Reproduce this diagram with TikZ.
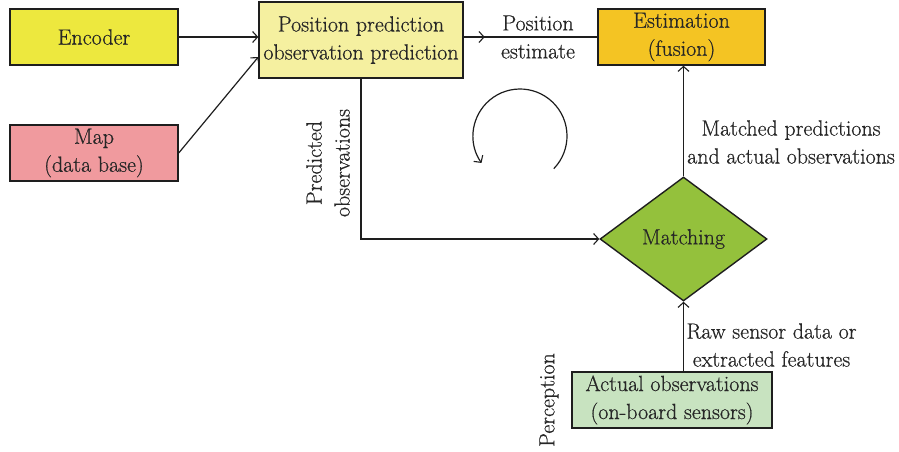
\documentclass[tikz,border=0pt]{standalone}
\usepackage{fontspec}
\setmainfont{Latin Modern Roman}[FakeBold=0.6]
\usetikzlibrary{arrows.meta,shapes.geometric,calc}
\definecolor{enccol}{RGB}{237,232,62}
\definecolor{mapcol}{RGB}{240,154,158}
\definecolor{ppcol}{RGB}{245,240,160}
\definecolor{estcol}{RGB}{244,196,35}
\definecolor{matchcol}{RGB}{148,193,60}
\definecolor{actcol}{RGB}{200,227,192}
\definecolor{txt}{RGB}{38,38,38}
\definecolor{edge}{RGB}{30,30,30}
\begin{document}
\begin{tikzpicture}[x=1pt,y=1pt,
  font=\fontsize{22}{28}\selectfont, text=txt,
  box/.style={draw=edge, line width=1.4pt, align=center, inner sep=0pt},
  arr/.style={draw=edge, line width=1.2pt, -{Straight Barb[length=5pt,width=11pt,line width=1.1pt]}},
  lnk/.style={draw=edge, line width=1.2pt},
  lbl/.style={align=center, inner sep=0pt}]
\useasboundingbox (0,0) rectangle (899,-451);
\node[box, fill=enccol, minimum width=168pt, minimum height=56pt] (enc) at (94,-37) {Encoder};
\node[box, fill=mapcol, minimum width=168pt, minimum height=56pt] (map) at (94,-153) {Map\\(data base)};
\node[box, fill=ppcol, minimum width=204pt, minimum height=76pt] (pp) at (361,-40) {Position prediction\\observation prediction};
\node[box, fill=estcol, minimum width=167pt, minimum height=56pt] (est) at (681.5,-37) {Estimation\\(fusion)};
\node[box, diamond, fill=matchcol, minimum width=167pt, minimum height=124pt] (match) at (683.5,-239) {Matching};
\node[box, fill=actcol, minimum width=200pt, minimum height=56pt] (act) at (672,-400) {Actual observations\\(on-board sensors)};

\draw[arr] (enc.east) -- (enc.east -| pp.west);
\draw[arr] (map.east) -- ([yshift=-17pt]pp.west);
\draw[lnk] (pp.east |- est.west) -- (est.west);
\draw[arr] (pp.east |- est.west) -- ++(21,0);
\draw[arr] (pp.south) |- (match.west);
\draw[arr] (match.north) -- (est.south -| match.north);
\draw[arr] (act.north -| match.south) -- (match.south);

\node[lbl] (lpe) at (538,-37) {Position\\estimate};
\node[lbl] (lmp) at (791,-142) {Matched predictions\\and actual observations};
\node[lbl] (lraw) at (771.5,-345) {Raw sensor data or\\extracted features};
\node[lbl, rotate=90] (lpo) at (328,-163) {Predicted\\observations};
\node[lbl, rotate=90] (lper) at (549,-400) {Perception};

\coordinate (cyc) at (520,-136);
\draw[arr] ([shift={(-44:47)}]cyc) arc[start angle=-44, end angle=215, radius=47];
\end{tikzpicture}
\end{document}
